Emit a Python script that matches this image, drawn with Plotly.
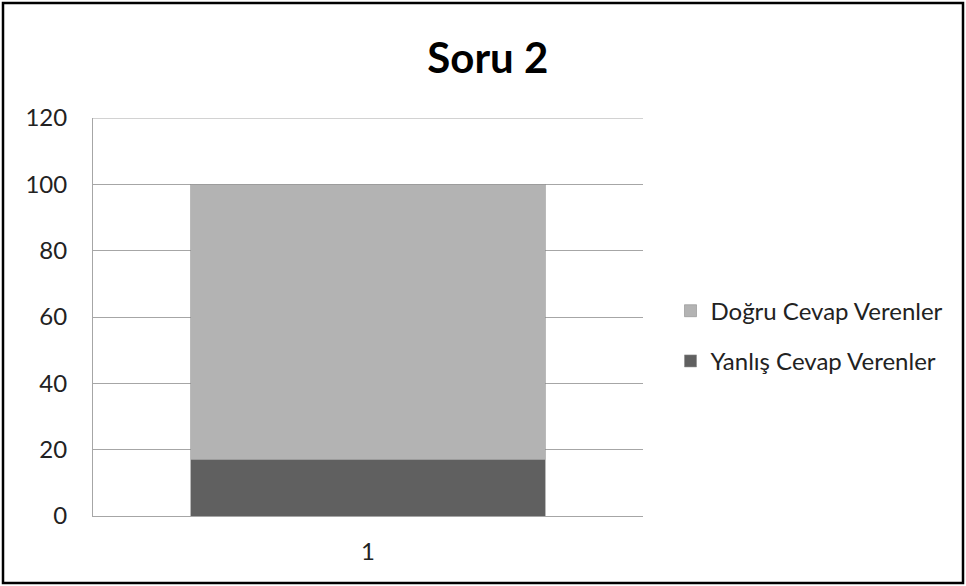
import plotly.graph_objects as go

# Soru 2 answer counts
categories = ["1"]
series_names = ["Yanlış Cevap Verenler", "Doğru Cevap Verenler"]
wrong_values = [17]
correct_values = [83]
series_colors = ["#606060", "#b3b3b3"]
legend_ranks = [2, 1]
y_ticks = [0, 20, 40, 60, 80, 100, 120]

FONT = "Lato, 'Open Sans', sans-serif"
GRID = "#a6a6a6"

fig = go.Figure()
for name, vals, color, rank in zip(series_names, [wrong_values, correct_values],
                                   series_colors, legend_ranks):
    fig.add_trace(go.Bar(
        x=categories, y=vals, name=name, legendgroup=name, legendrank=rank,
        marker=dict(color=color, line=dict(color="#8c8c8c", width=0.6)),
        width=0.644,
    ))

W, H = 966, 586
ML, MR, MT, MB = 93, 323, 118, 70
PW, PH = W - ML - MR, H - MT - MB

fig.update_layout(
    width=W, height=H,
    barmode="stack",
    paper_bgcolor="white", plot_bgcolor="white",
    margin=dict(l=ML, r=MR, t=MT, b=MB),
    title=dict(text="<b>Soru 2</b>", x=0.505, xanchor="center", y=0.901, yanchor="middle",
               font=dict(family=FONT, size=42, color="#000000")),
    font=dict(family=FONT, size=24, color="#222222"),
    showlegend=True,
    legend=dict(x=1.05, y=0.452, xanchor="left", yanchor="middle",
                traceorder="grouped", itemwidth=30, tracegroupgap=16,
                font=dict(family=FONT, size=24, color="#222222")),
    xaxis=dict(type="category", showgrid=False, showline=True, linecolor=GRID,
               linewidth=1, ticks="", tickfont=dict(size=24), ticklabelstandoff=14),
    yaxis=dict(range=[0, 120], tickvals=y_ticks, showgrid=True, gridcolor=GRID,
               gridwidth=1, showline=True, linecolor=GRID, linewidth=1,
               ticks="", tickfont=dict(size=24), ticklabelstandoff=20, zeroline=False),
)

# gridline at the top of the value range
fig.add_shape(type="line", xref="paper", yref="y", x0=0, x1=1, y0=y_ticks[-1], y1=y_ticks[-1],
              line=dict(color=GRID, width=1), layer="below")

# outer frame around the whole chart
fig.add_shape(type="rect", xref="paper", yref="paper",
              x0=(3 - ML) / PW, x1=(963 - ML) / PW,
              y0=-(583 - (H - MB)) / PH, y1=(MT - 3) / PH + 1,
              line=dict(color="#000000", width=2.5), fillcolor="rgba(0,0,0,0)", layer="above")

fig.write_html("out.html")
